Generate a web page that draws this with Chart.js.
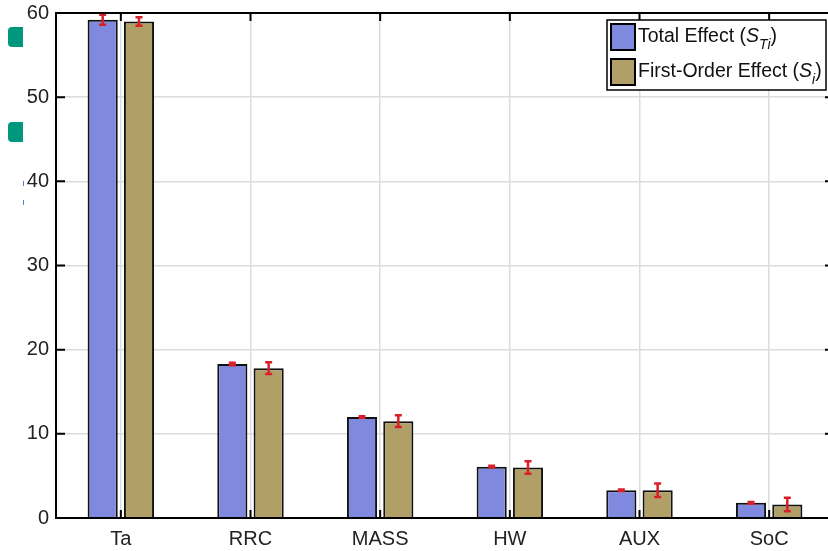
<!DOCTYPE html>
<html>
<head>
<meta charset="utf-8">
<script src="https://cdn.jsdelivr.net/npm/chart.js@4"></script>
<style>
    html, body { margin: 0; padding: 0; background: #fff; overflow: hidden; }
    #wrap { position: relative; width: 840px; height: 551px; }
    .mark { position: absolute; left: 8px; width: 15px; height: 20px; background: #00977f; border-radius: 4px 0 0 4px; }
    .dash { position: absolute; left: 23px; width: 1px; height: 5px; background: #4a86c8; }
</style>
</head>
<body>
<div id="wrap">
    <canvas id="chart" width="840" height="551"></canvas>
    <div class="mark" style="top:27px"></div>
    <div class="mark" style="top:122px"></div>
    <div class="dash" style="top:181px"></div>
    <div class="dash" style="top:200px"></div>
</div>
<script>
const categories = ["Ta", "RRC", "MASS", "HW", "AUX", "SoC"];
const totalEffect = [59.2, 18.3, 12.0, 6.1, 3.3, 1.8];
const totalErr = [0.6, 0.15, 0.1, 0.1, 0.1, 0.1];
const firstOrder = [59.0, 17.8, 11.5, 6.0, 3.3, 1.6];
const firstErr = [0.5, 0.7, 0.7, 0.75, 0.8, 0.8];
const yTicks = [0, 10, 20, 30, 40, 50, 60];

const font = "'Liberation Sans', Arial, sans-serif";

// red error bars on top of each bar
const errorBars = {
    id: "errorBars",
    afterDatasetsDraw(chart) {
        const ctx = chart.ctx;
        const y = chart.scales.y;
        const errs = [totalErr, firstErr];
        ctx.save();
        ctx.strokeStyle = "#d9202a";
        ctx.lineWidth = 2.5;
        chart.data.datasets.forEach((ds, i) => {
            chart.getDatasetMeta(i).data.forEach((bar, j) => {
                const v = ds.data[j];
                const e = errs[i][j];
                const top = y.getPixelForValue(v + e);
                const bot = y.getPixelForValue(v - e);
                const x = bar.x;
                ctx.beginPath();
                ctx.moveTo(x, top); ctx.lineTo(x, bot);
                ctx.moveTo(x - 3.5, top); ctx.lineTo(x + 3.5, top);
                ctx.moveTo(x - 3.5, bot); ctx.lineTo(x + 3.5, bot);
                ctx.stroke();
            });
        });
        ctx.restore();
    }
};

// box, inside ticks and legend like the matlab figure
const frame = {
    id: "frame",
    afterDraw(chart) {
        const ctx = chart.ctx;
        const a = chart.chartArea;
        const x = chart.scales.x;
        const y = chart.scales.y;
        ctx.save();
        ctx.strokeStyle = "#000";
        ctx.lineWidth = 2;
        ctx.strokeRect(a.left, a.top, a.right - a.left, a.bottom - a.top);
        ctx.beginPath();
        yTicks.forEach(t => {
            const py = y.getPixelForValue(t);
            ctx.moveTo(a.left, py); ctx.lineTo(a.left + 9, py);
            ctx.moveTo(a.right, py); ctx.lineTo(a.right - 9, py);
        });
        categories.forEach((c, i) => {
            const px = x.getPixelForValue(i);
            ctx.moveTo(px, a.bottom); ctx.lineTo(px, a.bottom - 8);
            ctx.moveTo(px, a.top); ctx.lineTo(px, a.top + 8);
        });
        ctx.stroke();

        // legend
        const lx = 607, ly = 20, lw = 219, lh = 70;
        ctx.fillStyle = "#fff";
        ctx.fillRect(lx, ly, lw, lh);
        ctx.lineWidth = 1.5;
        ctx.strokeRect(lx, ly, lw, lh);
        const items = [
            { color: "#7f89de", text: "Total Effect (", sub: "Ti", cy: 37 },
            { color: "#b0a068", text: "First-Order Effect (", sub: "i", cy: 72 }
        ];
        items.forEach(it => {
            ctx.fillStyle = it.color;
            ctx.fillRect(611, it.cy - 13, 24, 26);
            ctx.lineWidth = 2;
            ctx.strokeRect(611, it.cy - 13, 24, 26);
            ctx.fillStyle = "#111";
            ctx.textBaseline = "middle";
            ctx.textAlign = "left";
            let tx = 638;
            ctx.font = "19.5px " + font;
            ctx.fillText(it.text, tx, it.cy);
            tx += ctx.measureText(it.text).width;
            ctx.font = "italic 19.5px " + font;
            ctx.fillText("S", tx, it.cy);
            tx += ctx.measureText("S").width;
            ctx.font = "italic 14px " + font;
            ctx.fillText(it.sub, tx, it.cy + 8);
            tx += ctx.measureText(it.sub).width;
            ctx.font = "19.5px " + font;
            ctx.fillText(")", tx, it.cy);
        });
        ctx.restore();
    }
};

new Chart(document.getElementById("chart").getContext("2d"), {
    type: "bar",
    data: {
        labels: categories,
        datasets: [
            {
                label: "Total Effect",
                data: totalEffect,
                backgroundColor: "#7f89de",
                borderColor: "#111",
                borderWidth: 2,
                categoryPercentage: 0.56,
                barPercentage: 0.83
            },
            {
                label: "First-Order Effect",
                data: firstOrder,
                backgroundColor: "#b0a068",
                borderColor: "#111",
                borderWidth: 2,
                categoryPercentage: 0.56,
                barPercentage: 0.83
            }
        ]
    },
    options: {
        responsive: false,
        animation: false,
        devicePixelRatio: 1,
        layout: { padding: { top: 13, right: 6, left: 0, bottom: 0 } },
        plugins: {
            legend: { display: false },
            tooltip: { enabled: false }
        },
        scales: {
            x: {
                grid: { color: "#dcdcdc", lineWidth: 1.5, drawTicks: false, offset: false },
                border: { display: false },
                ticks: { color: "#222", font: { size: 20, family: font }, padding: 9 },
                afterFit(s) { s.height = 33; s.paddingLeft = 0; s.paddingRight = 0; }
            },
            y: {
                min: 0,
                max: 60,
                grid: { color: "#dcdcdc", lineWidth: 1.5, drawTicks: false },
                border: { display: false },
                ticks: { stepSize: 10, color: "#222", font: { size: 20, family: font }, padding: 7 },
                afterFit(s) { s.width = 56; s.paddingTop = 0; s.paddingBottom = 0; }
            }
        }
    },
    plugins: [errorBars, frame]
});
</script>
</body>
</html>
